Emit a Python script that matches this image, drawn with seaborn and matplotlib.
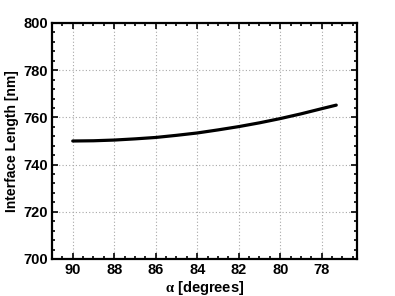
import matplotlib
matplotlib.use("Agg")
import matplotlib.pyplot as plt
import matplotlib.ticker as mticker
import numpy as np
import pandas as pd
import seaborn as sns

# Data
alpha_deg = [90, 89, 88, 87, 86, 85, 84, 83, 82, 81, 80, 79, 78, 77.3]
length_nm = [750.0, 750.1, 750.4, 750.9, 751.5, 752.4, 753.4, 754.7,
             756.1, 757.7, 759.5, 761.5, 763.7, 765.2]

sns.set_theme(style="ticks")
plt.rcParams["font.family"] = ["Liberation Sans", "DejaVu Sans"]
plt.rcParams["font.weight"] = "bold"
plt.rcParams["axes.labelweight"] = "bold"
plt.rcParams["text.color"] = "black"
plt.rcParams["axes.labelcolor"] = "black"
plt.rcParams["xtick.color"] = "black"
plt.rcParams["ytick.color"] = "black"
plt.rcParams["mathtext.fontset"] = "custom"
plt.rcParams["mathtext.rm"] = "Liberation Serif"
plt.rcParams["mathtext.it"] = "Liberation Serif"

df = pd.DataFrame({"alpha": alpha_deg, "length": length_nm})

fig = plt.figure(figsize=(3.95, 2.96), dpi=100)
ax = fig.add_axes([52 / 395, 1 - 259 / 296, (357 - 52) / 395, (259 - 23) / 296])

sns.lineplot(data=df, x="alpha", y="length", ax=ax, color="black", linewidth=2.3)

ax.set_xlim(91, 76.3)
ax.set_ylim(700, 800)
ax.xaxis.set_major_locator(mticker.MultipleLocator(2))
ax.xaxis.set_minor_locator(mticker.MultipleLocator(0.5))
ax.yaxis.set_major_locator(mticker.MultipleLocator(20))
ax.yaxis.set_minor_locator(mticker.MultipleLocator(4))
ax.xaxis.set_major_formatter(mticker.FuncFormatter(lambda v, p: f"{v:.0f}"))

ax.grid(True, which="major", linestyle=(0, (1, 2)), color="#a8a8a8", linewidth=0.8)
ax.tick_params(which="both", direction="in", top=True, right=True,
               labelsize=10.5, width=1.2, color="black", labelcolor="black", pad=3)
ax.tick_params(which="major", length=4)
ax.tick_params(which="minor", length=2.5)
for s in ax.spines.values():
    s.set_linewidth(1.6)
    s.set_color("black")

ax.set_xlabel(r"$\mathrm{\alpha}$ [degrees]", fontsize=10.5, fontweight="bold",
              labelpad=1, color="black")
ax.set_ylabel("Interface Length [nm]", fontsize=10, fontweight="bold",
              labelpad=3, color="black")

fig.savefig("out.png", dpi=100)
